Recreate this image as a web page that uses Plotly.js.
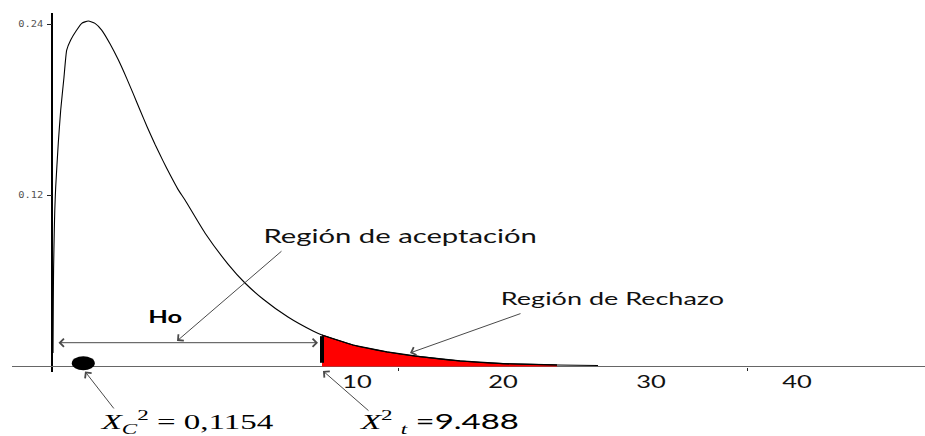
<!DOCTYPE html>
<html>
<head>
<meta charset="utf-8">
<script src="https://cdn.plot.ly/plotly-3.0.1.min.js"></script>
<style>
  html, body { margin: 0; padding: 0; background: #ffffff; }
  #plot { width: 925px; height: 436px; }
</style>
</head>
<body>
<div id="plot"></div>
<script>
// ---- data ----
const curveX = [0.035,0.046,0.056,0.081,0.098,0.130,0.221,0.306,0.422,0.517,0.657,0.868,1.044,1.276,1.511,1.746,2.038,2.330,2.625,2.857,3.092,3.349,3.619,3.901,4.146,4.428,4.674,5.376,6.185,6.782,7.414,8.293,9.172,9.488,10.577,11.772,12.932,14.337,15.849,17.746,19.187];
const curveY = [0.0095,0.0467,0.0691,0.0958,0.1098,0.1260,0.1568,0.1800,0.2032,0.2221,0.2291,0.2361,0.2408,0.2425,0.2408,0.2361,0.2265,0.2152,0.2022,0.1913,0.1800,0.1679,0.1559,0.1443,0.1347,0.1243,0.1168,0.0937,0.0719,0.0586,0.0474,0.0347,0.0249,0.0221,0.0151,0.0102,0.0069,0.0039,0.0020,0.0011,0.0007];
const rejectStart = 9.488;      // X^2 t (critical value)
const rejectEnd = 17.75;        // where the red area ends
const critBarY = [0.0026, 0.0213];
const chiCalcX = [1.10];        // position of the black dot
const chiCalcY = [0.00225];
const xTickMarks = [12.19, 24.45];
const xLabelVals = [10.72, 15.85, 21.05, 26.18];
const xLabelText = ['10', '20', '30', '40'];
const yTickVals = [0.12, 0.24];
const yTickText = ['0.12', '0.24'];

// ---- traces ----
const rejX = [], rejY = [];
curveX.forEach(function (x, i) {
  if (x >= rejectStart && x <= rejectEnd) { rejX.push(x); rejY.push(curveY[i]); }
});

const data = [
  { type: 'scatter', mode: 'lines', x: rejX, y: rejY, fill: 'tozeroy',
    fillcolor: '#ff0000', line: { color: '#000000', width: 1.2 }, hoverinfo: 'skip' },
  { type: 'scatter', mode: 'lines', x: curveX, y: curveY,
    line: { color: '#000000', width: 1.1, shape: 'spline', smoothing: 0.5 }, hoverinfo: 'skip' },
  { type: 'scatter', mode: 'lines', x: [rejectStart, rejectStart], y: critBarY,
    line: { color: '#000000', width: 4 }, hoverinfo: 'skip' },
  { type: 'scatter', mode: 'lines', x: [], y: [], xaxis: 'x2', hoverinfo: 'skip' }
];

const W = 925, H = 436;
const px = function (p) { return p / W; };
const py = function (p) { return (H - p) / H; };
const arrowCol = '#4a4a4a';

function arrow(hx, hy, tx, ty, extra) {
  const a = { xref: 'x', yref: 'y', axref: 'x', ayref: 'y', x: hx, y: hy, ax: tx, ay: ty,
    text: '', showarrow: true, arrowhead: 4, arrowsize: 1.6, arrowwidth: 1, arrowcolor: arrowCol };
  return Object.assign(a, extra || {});
}

const sans = 'Lato, "Open Sans", sans-serif';
const serif = '"Liberation Serif", "DejaVu Serif", serif';

const layout = {
  width: W, height: H,
  margin: { l: 0, r: 0, t: 0, b: 0, pad: 0 },
  paper_bgcolor: '#ffffff', plot_bgcolor: 'rgba(0,0,0,0)',
  showlegend: false,
  xaxis: {
    domain: [px(12), 1], range: [-1.4056, 30.678], anchor: 'free', position: py(366.5),
    showgrid: false, showline: false, zeroline: true, zerolinecolor: '#000000', zerolinewidth: 1.6,
    tickmode: 'array', tickvals: xTickMarks, ticks: 'outside', ticklen: 3, tickcolor: '#222222',
    tickwidth: 1, showticklabels: false, fixedrange: true
  },
  xaxis2: {
    overlaying: 'x', range: [-1.4056, 30.678], anchor: 'free', position: py(366.5),
    showgrid: false, showline: false, zeroline: false, ticks: '',
    tickmode: 'array', tickvals: xLabelVals, ticktext: xLabelText,
    tickfont: { family: sans, size: 17, color: '#111111' }, ticklabelstandoff: 4, fixedrange: true
  },
  yaxis: {
    domain: [py(372), py(13)], range: [-0.003860, 0.24807], anchor: 'free', position: px(52),
    showgrid: false, showline: false, zeroline: true, zerolinecolor: '#666666', zerolinewidth: 1.2,
    tickmode: 'array', tickvals: yTickVals, ticktext: yTickText, ticks: 'outside', ticklen: 5,
    tickcolor: '#222222', tickwidth: 1, ticklabelstandoff: 2,
    tickfont: { family: '"DejaVu Sans Mono", monospace', size: 8, color: '#555555' }, fixedrange: true
  },
  shapes: [
    { type: 'circle', xref: 'x', yref: 'y', xsizemode: 'pixel', ysizemode: 'pixel',
      xanchor: chiCalcX[0], yanchor: chiCalcY[0], x0: -11.5, x1: 11.5, y0: -7, y1: 7,
      fillcolor: '#000000', line: { width: 0 } }
  ],
  annotations: [
    // Ho double arrow
    arrow(9.347, 0.0167, 0.176, 0.0167, { arrowside: 'end+start', startarrowhead: 4, startarrowsize: 1.6 }),
    // aceptacion arrow
    arrow(4.393, 0.0179, 8.117, 0.0818),
    // rechazo arrow
    arrow(12.58, 0.0095, 16.516, 0.0375),
    // dot arrow (head kept inside the axis range)
    arrow(1.16, -0.0035, 2.214, -0.0305),
    // critical value arrow
    arrow(9.523, -0.0031, 11.175, -0.0319),
    { xref: 'paper', yref: 'paper', x: px(399.5), y: py(235.5), xanchor: 'center', yanchor: 'middle',
      text: 'Región de aceptación', showarrow: false, font: { family: sans, size: 19.5, color: '#111111' } },
    { xref: 'paper', yref: 'paper', x: px(612.5), y: py(298), xanchor: 'center', yanchor: 'middle',
      text: 'Región de Rechazo', showarrow: false, font: { family: sans, size: 18, color: '#111111' } },
    { xref: 'paper', yref: 'paper', x: px(165.5), y: py(316), xanchor: 'center', yanchor: 'middle',
      text: '<b>Ho</b>', showarrow: false, font: { family: sans, size: 17, color: '#000000' } },
    { xref: 'paper', yref: 'paper', x: px(187), y: py(421), xanchor: 'center', yanchor: 'middle',
      text: '<i>X</i><sub><i>C</i></sub><sup>2</sup> = 0,1154', showarrow: false,
      font: { family: serif, size: 22, color: '#000000' } },
    { xref: 'paper', yref: 'paper', x: px(439), y: py(421), xanchor: 'center', yanchor: 'middle',
      text: '<i>X</i><sup>2</sup> <sub><i>t</i></sub> <span style="font-family:Lato">=9.488</span>', showarrow: false,
      font: { family: serif, size: 22, color: '#000000' } }
  ]
};

const config = { staticPlot: true, displayModeBar: false, responsive: false };

Plotly.newPlot('plot', data, layout, config).then(function (gd) {
  // the reference image is horizontally stretched; widen the text the same way
  var sx = 1.5;
  gd.querySelectorAll('text.annotation-text, .xtick text, .x2tick text').forEach(function (t) {
    var b = t.getBBox();
    if (!b.width) return;
    var cx = b.x + b.width / 2;
    var old = t.getAttribute('transform') || '';
    t.setAttribute('transform', old + ' translate(' + cx + ',0) scale(' + sx + ',1) translate(' + (-cx) + ',0)');
  });
  gd.querySelectorAll('.ytick text').forEach(function (t) {
    var b = t.getBBox();
    var cx = b.x + b.width;
    var old = t.getAttribute('transform') || '';
    t.setAttribute('transform', old + ' translate(' + cx + ',0) scale(1.3,1) translate(' + (-cx) + ',0)');
  });
});
</script>
</body>
</html>
